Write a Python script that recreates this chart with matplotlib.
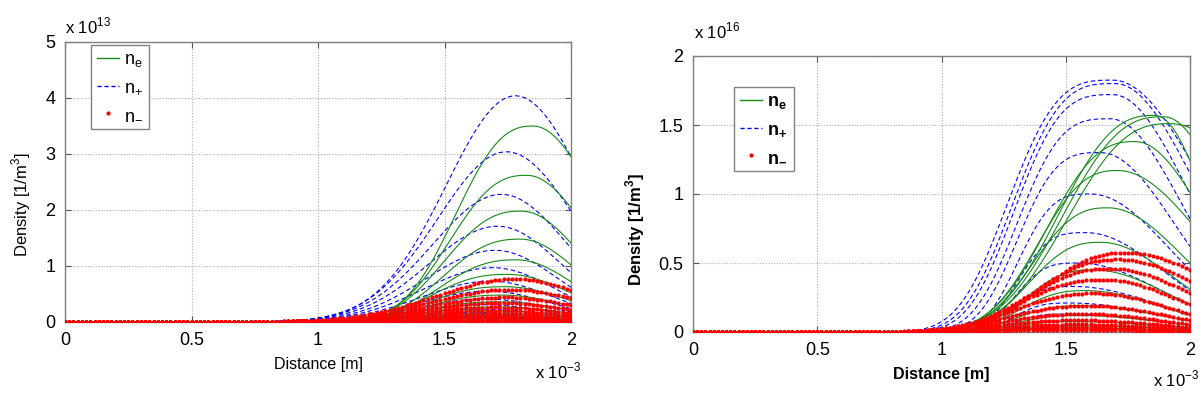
import numpy as np
import matplotlib
matplotlib.use("Agg")
import matplotlib.pyplot as plt
from matplotlib.lines import Line2D

plt.rcParams['font.family'] = ['Liberation Sans', 'DejaVu Sans']

# ---------------- data (x in 1e-3 m) ----------------
x_points = 121
x_min, x_max = 0.0, 2.0

# Left panel (densities in 1e13 m^-3): peak value, peak position, value at x=2
ne_peak_L = [3.50, 2.62, 1.98, 1.48, 1.11, 0.85, 0.63, 0.48, 0.36, 0.27, 0.20, 0.15, 0.11, 0.08, 0.06]
ne_xpk_L  = [1.85, 1.825, 1.805, 1.80, 1.785, 1.75, 1.74, 1.73, 1.72, 1.71, 1.70, 1.69, 1.68, 1.67, 1.66]
ne_end_L  = [2.95, 2.04, 1.41, 1.02, 0.72, 0.52, 0.38, 0.28, 0.21, 0.155, 0.115, 0.085, 0.062, 0.046, 0.034]

pp_peak_L = [4.04, 3.04, 2.28, 1.71, 1.28, 0.97, 0.73, 0.55, 0.41, 0.31, 0.23, 0.17, 0.13, 0.10, 0.07]
pp_xpk_L  = [1.78, 1.745, 1.725, 1.71, 1.70, 1.69, 1.68, 1.67, 1.66, 1.65, 1.64, 1.63, 1.62, 1.61, 1.60]
pp_end_L  = [2.95, 1.98, 1.32, 0.88, 0.62, 0.45, 0.33, 0.24, 0.18, 0.13, 0.10, 0.07, 0.05, 0.04, 0.03]

nn_peak_L = [0.77, 0.58, 0.44, 0.34, 0.26, 0.20, 0.15, 0.11, 0.085, 0.065, 0.05, 0.038, 0.029, 0.022, 0.017]
nn_xpk_L  = [1.78, 1.76, 1.74, 1.72, 1.70, 1.69, 1.68, 1.67, 1.66, 1.65, 1.64, 1.63, 1.62, 1.61, 1.60]
nn_end_L  = [0.57, 0.42, 0.30, 0.22, 0.16, 0.12, 0.09, 0.065, 0.05, 0.037, 0.028, 0.021, 0.016, 0.012, 0.009]

# Right panel (densities in 1e16 m^-3), with rising-edge width of each curve
ne_peak_R = [1.57, 1.56, 1.51, 1.38, 1.17, 0.90, 0.65, 0.45, 0.30, 0.19, 0.12, 0.075, 0.045, 0.03]
ne_xpk_R  = [1.86, 1.895, 1.92, 1.78, 1.71, 1.67, 1.64, 1.61, 1.58, 1.56, 1.55, 1.54, 1.53, 1.52]
ne_end_R  = [1.24, 1.43, 1.48, 1.01, 0.80, 0.50, 0.31, 0.20, 0.12, 0.08, 0.05, 0.03, 0.02, 0.013]
ne_wl_R   = [0.47, 0.49, 0.50, 0.43, 0.39, 0.37, 0.35, 0.33, 0.32, 0.31, 0.30, 0.30, 0.29, 0.28]

pp_peak_R = [1.825, 1.80, 1.72, 1.545, 1.30, 1.00, 0.72, 0.50, 0.33, 0.21, 0.13, 0.08, 0.05, 0.03]
pp_xpk_R  = [1.69, 1.70, 1.69, 1.68, 1.64, 1.60, 1.58, 1.55, 1.53, 1.52, 1.51, 1.50, 1.49, 1.48]
pp_end_R  = [1.25, 1.15, 1.00, 0.82, 0.62, 0.45, 0.30, 0.20, 0.13, 0.08, 0.05, 0.03, 0.02, 0.01]
pp_wl_R   = [0.48, 0.47, 0.45, 0.425, 0.38, 0.33, 0.31, 0.29, 0.27, 0.26, 0.25, 0.24, 0.23, 0.22]

nn_peak_R = [0.574, 0.526, 0.46, 0.38, 0.28, 0.19, 0.13, 0.085, 0.055, 0.035, 0.022, 0.014]
nn_xpk_R  = [1.74, 1.71, 1.68, 1.65, 1.62, 1.60, 1.58, 1.56, 1.55, 1.54, 1.53, 1.52]
nn_end_R  = [0.45, 0.37, 0.28, 0.20, 0.13, 0.085, 0.055, 0.035, 0.022, 0.014, 0.009, 0.006]

x_ticks = [0, 0.5, 1, 1.5, 2]
x_ticklabels = ['0', '0.5', '1', '1.5', '2']
y_ticks_L = [0, 1, 2, 3, 4, 5]
y_ticks_R = [0, 0.5, 1, 1.5, 2]
y_ticklabels_R = ['0', '0.5', '1', '1.5', '2']
legend_labels = [r'n$_\mathregular{e}$', r'n$_\mathregular{+}$', r'n$_\mathregular{-}$']


def profile(x, peak, xpk, end, wl, pl):
    d = x - xpk
    wr = (x_max - xpk) / np.sqrt(np.log(peak / end))
    left = peak * np.exp(-(np.abs(d) / wl) ** pl)
    right = peak * np.exp(-(d / wr) ** 2)
    return np.where(d < 0, left, right)


x = np.linspace(x_min, x_max, x_points)

GREEN = '#168a1a'
BLUE = '#0000ff'
RED = '#ff0000'

fig = plt.figure(figsize=(12.04, 3.93), dpi=100)
axL = fig.add_axes([65/1204, 1-322/393, 506/1204, 280/393])
axR = fig.add_axes([693/1204, 1-332/393, 497/1204, 276/393])


def draw(ax, ne, pp, nn, shapes):
    (wg, pg), (wb, pb), (wr_, pr) = shapes
    peaks, xpks, ends = pp
    for p, xp, e, w in zip(peaks, xpks, ends, np.broadcast_to(wb, len(peaks))):
        ax.plot(x, profile(x, p, xp, e, w, pb), color=BLUE, lw=0.8,
                ls=(0, (4, 2.5)), zorder=3)
    peaks, xpks, ends = ne
    for p, xp, e, w in zip(peaks, xpks, ends, np.broadcast_to(wg, len(peaks))):
        ax.plot(x, profile(x, p, xp, e, w, pg), color=GREEN, lw=0.8, zorder=4)
    peaks, xpks, ends = nn
    for p, xp, e, w in zip(peaks, xpks, ends, np.broadcast_to(wr_, len(peaks))):
        ax.plot(x, profile(x, p, xp, e, w, pr), ls='none', marker='.',
                ms=4.0, color=RED, mec=RED, zorder=5)


draw(axL, (ne_peak_L, ne_xpk_L, ne_end_L), (pp_peak_L, pp_xpk_L, pp_end_L),
     (nn_peak_L, nn_xpk_L, nn_end_L), [(0.375, 2.5), (0.385, 2.0), (0.44, 2.0)])
draw(axR, (ne_peak_R, ne_xpk_R, ne_end_R), (pp_peak_R, pp_xpk_R, pp_end_R),
     (nn_peak_R, nn_xpk_R, nn_end_R),
     [(np.array(ne_wl_R), 2.6), (np.array(pp_wl_R), 3.2), (0.42, 2.4)])


def style(ax, yticks, yticklabels, ymax, bold, ylab_xy, xlabpad):
    ax.set_xlim(0, 2)
    ax.set_ylim(0, ymax)
    ax.set_xticks(x_ticks)
    ax.set_xticklabels(x_ticklabels)
    ax.set_yticks(yticks)
    ax.set_yticklabels(yticklabels)
    ax.tick_params(direction='in', top=True, right=True, labelsize=13,
                   length=4, color='#555555', pad=7)
    ax.grid(True, color='#b0b0b0', ls=(0, (1, 1.5)), lw=0.8)
    ax.set_axisbelow(True)
    for s in ax.spines.values():
        s.set_color('#808080')
        s.set_linewidth(1.0)
    w = 'bold' if bold else 'normal'
    ax.set_xlabel('Distance [m]', fontsize=11.5, fontweight=w, labelpad=xlabpad)
    ax.set_ylabel('Density [1/m$^\\mathregular{3}$]', fontsize=12, fontweight=w)
    ax.yaxis.set_label_coords(*ylab_xy)


style(axL, y_ticks_L, [str(v) for v in y_ticks_L], 5, False, (-0.063, 0.42), 6)
style(axR, y_ticks_R, y_ticklabels_R, 2, True, (-0.093, 0.37), 6)

# multipliers
fig.text(65/1204, 1-33/393, r'x 10$^\mathregular{13}$', fontsize=12, va='baseline', ha='left')
fig.text(694/1204, 1-38/393, r'x 10$^\mathregular{16}$', fontsize=12, va='baseline', ha='left')
fig.text(535/1204, 1-378/393, r'x 10$^\mathregular{-3}$', fontsize=12, va='baseline', ha='left')
fig.text(1153/1204, 1-386/393, r'x 10$^\mathregular{-3}$', fontsize=12, va='baseline', ha='left')

handles = [Line2D([], [], color=GREEN, lw=1.0),
           Line2D([], [], color=BLUE, lw=1.0, ls=(0, (3, 2))),
           Line2D([], [], color=RED, ls='none', marker='.', ms=4)]


def legend(ax, bbox, bold):
    leg = ax.legend(handles, legend_labels, loc='upper left', bbox_to_anchor=bbox,
                    borderaxespad=0, fancybox=False, framealpha=1, edgecolor='#808080',
                    handlelength=1.2, handletextpad=0.3,
                    borderpad=0.35, labelspacing=0.55,
                    prop={'size': 13, 'weight': 'bold' if bold else 'normal'})
    leg.get_frame().set_linewidth(1.0)
    leg.set_zorder(10)


legend(axL, (0.051, 0.99), False)
legend(axR, (0.082, 0.888), True)

fig.savefig('out.png', dpi=100)
